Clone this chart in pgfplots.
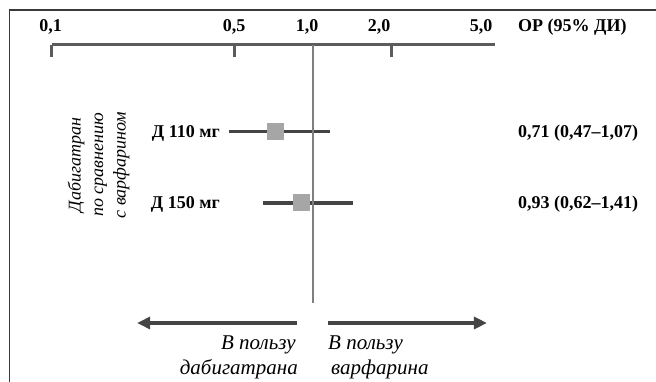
\documentclass[border=0pt]{standalone}
\usepackage{pgfplots}
\pgfplotsset{compat=1.18}
\usepackage{fontspec}
\setmainfont{Liberation Serif}
\usetikzlibrary{arrows.meta}
\definecolor{dk}{HTML}{444444}
\definecolor{sq}{HTML}{A6A6A6}
\definecolor{vl}{HTML}{7F7F7F}
\definecolor{ax}{HTML}{5C5C5C}
\definecolor{fr}{HTML}{3A3A3A}
\begin{document}
\begin{tikzpicture}
\useasboundingbox (0pt,0pt) rectangle (656pt,382pt);
\draw[line width=1.5pt, color=fr] (9.5pt,0pt) -- (9.5pt,372pt) -- (656pt,372pt);
\begin{axis}[at={(52pt,0pt)}, anchor=south west, scale only axis,
  width=443.4pt, height=337pt,
  xmode=log, xmin=0.1, xmax=5, ymin=0, ymax=337, clip=false,
  axis x line*=top, axis y line=none,
  x axis line style={-, line width=3pt, color=ax},
  xtick={0.1,0.5,2}, xticklabels={,,}, minor xtick={},
  tick align=inside, major tick length=12pt,
  xtick style={line width=3pt, color=ax},
  ]
  % confidence intervals
  \addplot[dk, line width=3pt] coordinates {(0.475,250) (1.16,250)};
  \addplot[dk, line width=4pt] coordinates {(0.643,179) (1.42,179)};
  % point estimates
  \addplot[sq, only marks, mark=square*, mark size=8pt, mark options={fill=sq, draw=sq, line width=0pt}]
    coordinates {(0.72,250) (0.90,179)};
  % line of no effect
  \addplot[vl, line width=2pt] coordinates {(1,337) (1,79)};
  % arrows
  \draw[dk, line width=3.5pt, -{Triangle[length=13pt,width=12pt]}] (axis cs:0.868,59) -- (axis cs:0.212,59);
  \draw[dk, line width=3.5pt, -{Triangle[length=13pt,width=12pt]}] (axis cs:1.142,59) -- (axis cs:4.64,59);
\end{axis}
% tick labels
\begin{scope}[every node/.style={font=\fontsize{18}{22}\selectfont\bfseries, inner sep=0pt}]
  \node[anchor=base] at (50.5pt,350pt) {0,1};
  \node[anchor=base] at (234pt,350pt) {0,5};
  \node[anchor=base] at (307pt,350pt) {1,0};
  \node[anchor=base] at (379pt,350pt) {2,0};
  \node[anchor=base] at (481pt,350pt) {5,0};
  \node[anchor=base west] at (518pt,350pt) {ОР (95\% ДИ)};
  \node[anchor=base east] at (220pt,244pt) {Д 110 мг};
  \node[anchor=base east] at (220pt,173pt) {Д 150 мг};
  \node[anchor=base west] at (518pt,244pt) {0,71 (0,47–1,07)};
  \node[anchor=base west] at (518pt,173pt) {0,93 (0,62–1,41)};
\end{scope}
% rotated group label
\begin{scope}[every node/.style={font=\fontsize{18}{22}\selectfont\itshape, inner sep=0pt, rotate=90}]
  \node[anchor=base] at (80.5pt,217pt) {Дабигатран};
  \node[anchor=base] at (103pt,217pt) {по сравнению};
  \node[anchor=base] at (125.5pt,217pt) {с варфарином};
\end{scope}
% bottom labels
\begin{scope}[every node/.style={font=\fontsize{21}{25}\selectfont\itshape, inner sep=0pt}]
  \node[anchor=base east] at (296pt,32pt) {В пользу};
  \node[anchor=base east] at (298pt,7pt) {дабигатрана};
  \node[anchor=base west] at (328pt,32pt) {В пользу};
  \node[anchor=base west] at (331pt,7pt) {варфарина};
\end{scope}
\end{tikzpicture}
\end{document}
